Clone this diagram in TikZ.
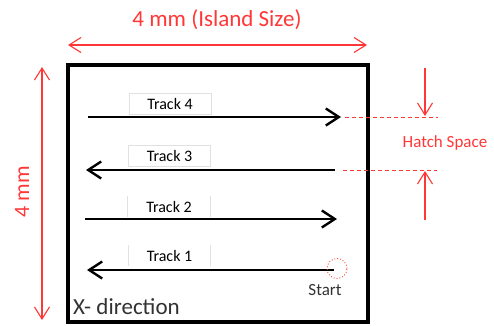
\documentclass[tikz,border=0pt]{standalone}
\usepackage{fontspec}
\setmainfont{Carlito}
\usetikzlibrary{arrows.meta}
\definecolor{dimred}{RGB}{255,55,55}
\definecolor{boxgray}{RGB}{225,225,225}
\definecolor{textgray}{RGB}{50,50,50}
\tikzset{
  trackarrow/.style={line width=2.4pt, black, -{Straight Barb[length=13pt,width=17pt,line width=2.4pt]}},
  dimarrow/.style={line width=1.1pt, dimred, -{Straight Barb[length=12pt,width=15pt,line width=1.1pt]}},
  dimboth/.style={line width=1.1pt, dimred, {Straight Barb[length=12pt,width=15pt,line width=1.1pt]}-{Straight Barb[length=12pt,width=15pt,line width=1.1pt]}},
  hatchline/.style={line width=1pt, dimred, dash pattern=on 4pt off 3pt},
  tracklabel/.style={inner sep=0pt, minimum width=82pt, minimum height=21pt, font=\fontsize{16}{16}\selectfont, text=black},
  redtext/.style={text=dimred, inner sep=0pt},
}
\begin{document}
\begin{tikzpicture}[x=1pt,y=-1pt]
\useasboundingbox (0,0) rectangle (494,325);
\fill[white] (0,0) rectangle (494,325);

% island box
\draw[line width=4pt] (68,65) rectangle (368,322);

% track labels
\node[tracklabel, draw=boxgray, fill=white] (t4) at (170,103.5) {Track 4};
\node[tracklabel, draw=boxgray, fill=white] (t3) at (169.5,156) {Track 3};
\node[tracklabel] (t2) at (169,206.5) {Track 2};
\node[tracklabel] (t1) at (169.5,255.5) {Track 1};
\draw[boxgray, line width=0.8pt] (t2.north west) -- (t2.south west) (t2.north east) -- (t2.south east);
\draw[boxgray, line width=0.8pt] (t1.north west) -- (t1.south west) (t1.north east) -- (t1.south east);

% track arrows
\coordinate (a4s) at (88,117);  \coordinate (a4e) at (341,117);
\coordinate (a3s) at (335,170); \coordinate (a3e) at (86,170);
\coordinate (a2s) at (85,219);  \coordinate (a2e) at (337,219);
\coordinate (a1s) at (334,270); \coordinate (a1e) at (87,270);
\draw[trackarrow] (a4s) -- (a4e);
\draw[trackarrow] (a3s) -- (a3e);
\draw[trackarrow] (a2s) -- (a2e);
\draw[trackarrow] (a1s) -- (a1e);

% start marker
\node[circle, draw=dimred, dotted, line width=0.9pt, minimum size=20pt, inner sep=0pt] (startc) at (337,268.5) {};
\node[inner sep=0pt, font=\fontsize{17}{17}\selectfont, text=textgray] (startt) at (325,290) {Start};

% X- direction
\node[anchor=base west, inner sep=0pt, font=\fontsize{23}{23}\selectfont, text=textgray] (xdir) at (73,314) {X- direction};

% top dimension
\coordinate (tl) at (68,45); \coordinate (tr) at (367,45);
\draw[dimboth] (tl) -- (tr);
\node[redtext, font=\fontsize{23}{23}\selectfont] (island) at (217,20) {4 mm (Island Size)};

% left dimension
\coordinate (lt) at (42,67); \coordinate (lb) at (42,320);
\draw[dimboth] (lt) -- (lb);
\node[redtext, rotate=90, font=\fontsize{22}{22}\selectfont] (vmm) at (22,192) {4 mm};

% hatch space
\coordinate (h1s) at (345,117); \coordinate (h1e) at (438,117);
\coordinate (h2s) at (343,170); \coordinate (h2e) at (437,170);
\draw[hatchline] (h1s) -- (h1e);
\draw[hatchline] (h2s) -- (h2e);
\coordinate (hd1) at (425,68);  \coordinate (hd2) at (425,116);
\coordinate (hu1) at (425,220); \coordinate (hu2) at (425,171);
\draw[dimarrow] (hd1) -- (hd2);
\draw[dimarrow] (hu1) -- (hu2);
\node[redtext, font=\fontsize{17}{17}\selectfont] (hatch) at (445,143) {Hatch Space};
\end{tikzpicture}
\end{document}
